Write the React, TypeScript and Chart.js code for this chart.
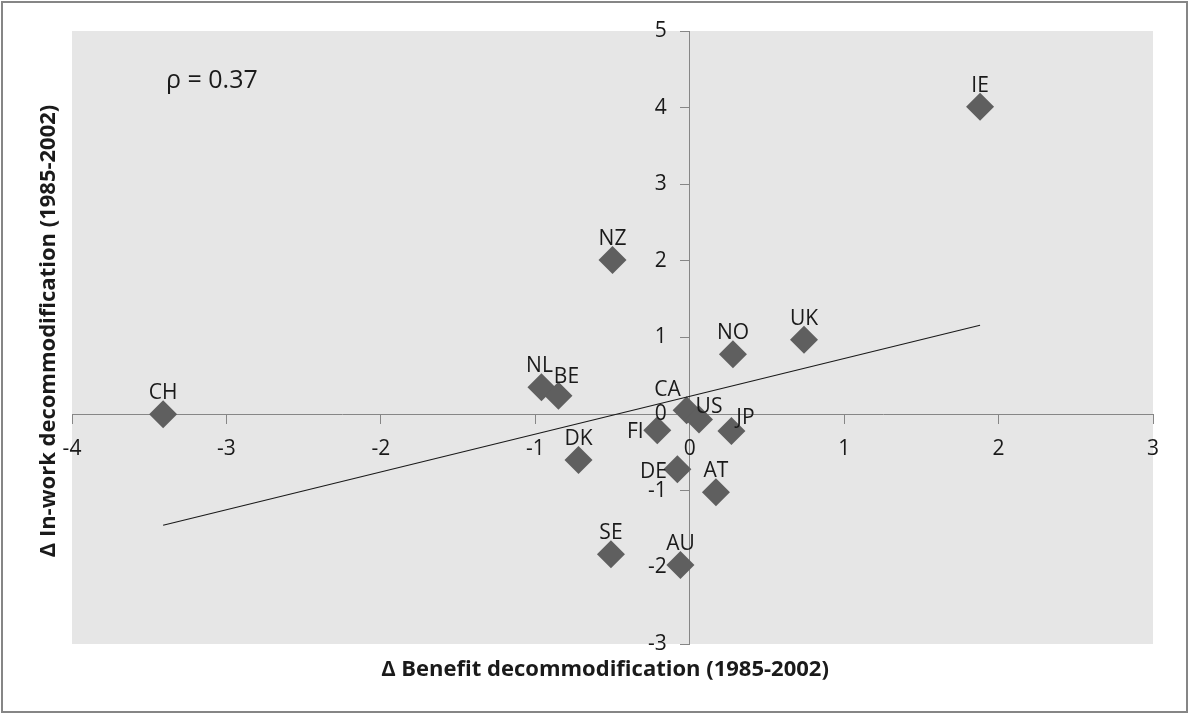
import React, { useEffect, useRef } from "react";
import { Chart, registerables } from "chart.js";

Chart.register(...registerables);

// ---- Data ----
const COUNTRIES = ["CH", "IE", "NZ", "NL", "BE", "CA", "US", "FI", "JP", "DK", "DE", "AT", "SE", "AU", "NO", "UK"];
const BENEFIT_CHANGE = [-3.41, 1.88, -0.5, -0.96, -0.85, -0.02, 0.06, -0.21, 0.27, -0.72, -0.08, 0.17, -0.51, -0.06, 0.28, 0.74];
const INWORK_CHANGE = [0.0, 4.01, 2.01, 0.35, 0.24, 0.05, -0.07, -0.21, -0.22, -0.6, -0.72, -1.02, -1.83, -1.97, 0.78, 0.97];
const TREND_X = [-3.41, 1.88];
const TREND_Y = [-1.45, 1.16];
const X_TICKS = [-4, -3, -2, -1, 0, 1, 2, 3];
const Y_TICKS = [-3, -2, -1, 0, 1, 2, 3, 4, 5];
const X_TITLE = "Δ Benefit decommodification (1985-2002)";
const Y_TITLE = "Δ In-work decommodification (1985-2002)";
const RHO_TEXT = "ρ = 0.37";

// ---- Styling (label placement offsets, px, relative to point centre) ----
const LABEL_OFFSETS: Record<string, [number, number]> = {
  NL: [-2, -21],
  BE: [8, -19],
  CA: [-19, -20],
  US: [10, -12],
  FI: [-22, 2],
  JP: [14, -13],
  DE: [-24, 3],
};
const DEFAULT_OFFSET: [number, number] = [0, -21];

const FONT = "'Open Sans', 'DejaVu Sans', sans-serif";
const AXIS_COLOR = "#868686";
const TEXT_COLOR = "#1a1a1a";

const decorPlugin = {
  id: "decor",
  beforeDraw(chart: any) {
    const { ctx, chartArea, width, height } = chart;
    ctx.save();
    ctx.fillStyle = "#ffffff";
    ctx.fillRect(0, 0, width, height);
    ctx.fillStyle = "#E6E6E6";
    ctx.fillRect(chartArea.left, chartArea.top, chartArea.right - chartArea.left, chartArea.bottom - chartArea.top);
    ctx.strokeStyle = AXIS_COLOR;
    ctx.lineWidth = 2;
    ctx.strokeRect(2, 2, width - 4, height - 3);
    ctx.restore();
  },
  afterDraw(chart: any) {
    const { ctx } = chart;
    const xs = chart.scales.x;
    const ys = chart.scales.y;
    const axisX = xs.getPixelForValue(0);
    const axisY = ys.getPixelForValue(0);
    ctx.save();
    ctx.fillStyle = TEXT_COLOR;
    // tick labels
    ctx.font = `21px ${FONT}`;
    ctx.textAlign = "center";
    ctx.textBaseline = "middle";
    X_TICKS.forEach((v) => {
      ctx.fillText(String(v), xs.getPixelForValue(v), axisY + 35);
    });
    ctx.textAlign = "right";
    Y_TICKS.forEach((v) => {
      ctx.fillText(String(v), axisX - 23, ys.getPixelForValue(v));
    });
    // point labels
    const meta = chart.getDatasetMeta(0);
    ctx.font = `21px ${FONT}`;
    ctx.textAlign = "center";
    ctx.textBaseline = "middle";
    meta.data.forEach((pt: any, i: number) => {
      const name = COUNTRIES[i];
      const [dx, dy] = LABEL_OFFSETS[name] || DEFAULT_OFFSET;
      ctx.fillText(name, pt.x + dx, pt.y + dy);
    });
    // rho annotation
    ctx.font = `25px ${FONT}`;
    ctx.textAlign = "left";
    ctx.textBaseline = "alphabetic";
    ctx.fillText(RHO_TEXT, 166, 88);
    // axis titles
    ctx.font = `bold 22px ${FONT}`;
    ctx.textAlign = "center";
    ctx.textBaseline = "middle";
    ctx.fillText(X_TITLE, 605, 670);
    ctx.translate(49, 331);
    ctx.rotate(-Math.PI / 2);
    ctx.fillText(Y_TITLE, 0, 0);
    ctx.restore();
  },
};

export default function App() {
  const ref = useRef<HTMLCanvasElement>(null);
  useEffect(() => {
    if (!ref.current) return;
    const chart = new Chart(ref.current, {
      type: "scatter",
      data: {
        datasets: [
          {
            label: "Countries",
            data: COUNTRIES.map((_, i) => ({ x: BENEFIT_CHANGE[i], y: INWORK_CHANGE[i] })),
            pointStyle: "rectRot",
            pointRadius: 14,
            pointHoverRadius: 14,
            backgroundColor: "#5F5F5F",
            borderWidth: 0,
            order: 1,
          },
          {
            type: "line",
            label: "Trend",
            data: TREND_X.map((x, i) => ({ x, y: TREND_Y[i] })),
            borderColor: "#1a1a1a",
            borderWidth: 1.2,
            pointRadius: 0,
            showLine: true,
            fill: false,
            order: 0,
          } as any,
        ],
      },
      options: {
        animation: false,
        responsive: true,
        maintainAspectRatio: false,
        layout: { padding: { left: 72, top: 31, right: 36, bottom: 69 } },
        plugins: { legend: { display: false }, tooltip: { enabled: false } },
        scales: {
          x: {
            type: "linear",
            position: { y: 0 } as any,
            min: -4,
            max: 3,
            afterBuildTicks: (s: any) => {
              s.ticks = X_TICKS.map((v) => ({ value: v }));
            },
            ticks: { display: false },
            grid: { drawOnChartArea: false, drawTicks: true, tickLength: 9, color: AXIS_COLOR },
            border: { color: AXIS_COLOR, width: 1 },
          },
          y: {
            type: "linear",
            position: { x: 0 } as any,
            min: -3,
            max: 5,
            afterBuildTicks: (s: any) => {
              s.ticks = Y_TICKS.map((v) => ({ value: v }));
            },
            ticks: { display: false },
            grid: { drawOnChartArea: false, drawTicks: true, tickLength: 9, color: AXIS_COLOR },
            border: { color: AXIS_COLOR, width: 1 },
          },
        },
      },
      plugins: [decorPlugin],
    });
    return () => chart.destroy();
  }, []);
  return (
    <div style={{ position: "absolute", left: 0, top: 0, width: 1189, height: 713 }}>
      <canvas ref={ref} />
    </div>
  );
}
